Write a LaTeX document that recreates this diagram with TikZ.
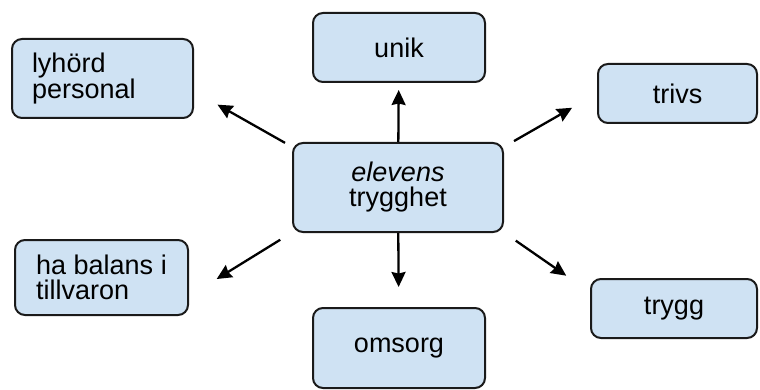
\documentclass[tikz,border=0pt]{standalone}
\usepackage{fontspec}
\setmainfont{Liberation Sans}
\usetikzlibrary{arrows.meta, positioning}
\definecolor{boxblue}{HTML}{CFE2F3}
\definecolor{boxline}{HTML}{1A1A1A}

\begin{document}
\begin{tikzpicture}[
        ->,
        >={Stealth[length=15pt, width=14pt, inset=1.5pt]},
        line width=2.3pt,
        every node/.style={font=\fontsize{27}{25}\selectfont},
        term/.style={draw=boxline, fill=boxblue, rounded corners=10pt,
            line width=2pt, align=center, inner sep=0pt},
        termleft/.style={term, align=left, inner xsep=20pt},
        yscale=-1,
        x=1pt,
        y=1pt
    ]
    \useasboundingbox (0,0) rectangle (760,390);
    % centre
    \node[term, minimum width=210pt, minimum height=89pt] (elevens) at (398,187.5) {\textit{elevens}\\trygghet};
    % around it
    \node[termleft, text width=141pt, minimum height=79pt] (lyhord) at (102.5,78.5) {lyhörd\\personal};
    \node[term, minimum width=172pt, minimum height=69pt] (unik) at (399,47.5) {unik};
    \node[term, minimum width=159pt, minimum height=59pt] (trivs) at (677.5,93.5) {trivs};
    \node[term, align=left, minimum width=173pt, minimum height=75pt] (balans) at (101.5,277.5) {ha balans i\\tillvaron};
    \node[term, minimum width=172pt, minimum height=80pt] (omsorg) at (399,348) {omsorg};
    \node[term, minimum width=166pt, minimum height=59pt] (trygg) at (674,308.5) {trygg};

    \draw[shorten <=8pt, shorten >=27pt] (elevens.159) -- (lyhord.-8);
    \draw[shorten >=7pt] (elevens) -- (unik);
    \draw[shorten <=11.5pt, shorten >=28.7pt] (elevens.21) -- (trivs.west);
    \draw[shorten <=13.8pt, shorten >=32.5pt] (elevens.203.5) -- (balans.-12);
    \draw[shorten >=20pt] (elevens) -- (omsorg);
    \draw[shorten <=14.3pt, shorten >=28.9pt] (elevens.-23.5) -- (trygg.169.5);
\end{tikzpicture}
\end{document}
